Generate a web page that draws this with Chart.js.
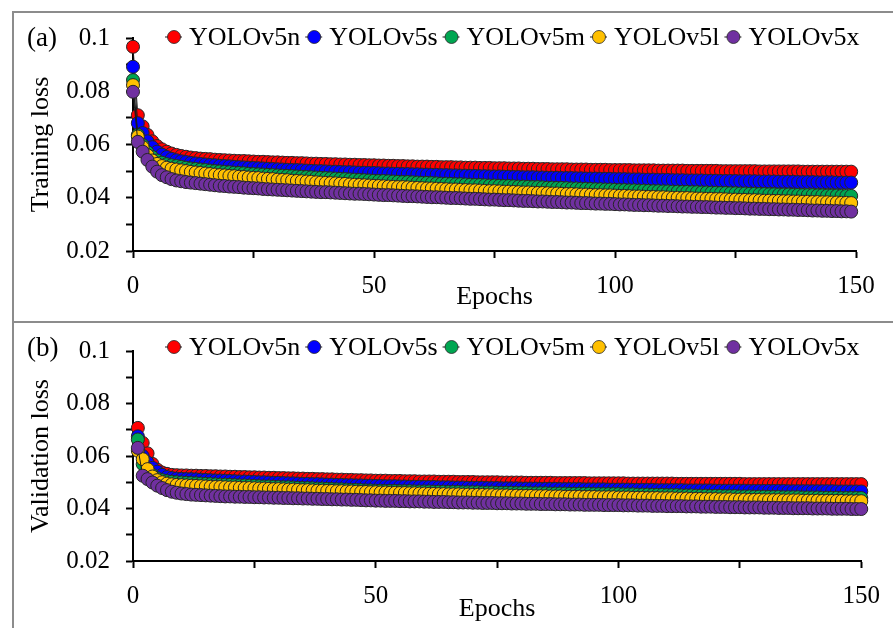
<!DOCTYPE html>
<html>
<head>
<meta charset="utf-8">
<script src="https://cdn.jsdelivr.net/npm/chart.js@4.4.1/dist/chart.umd.min.js"></script>
<style>
  body { margin: 0; background: #fff; width: 893px; height: 628px; overflow: hidden; position: relative; }
  .frame { position: absolute; left: 12px; border-left: 2px solid #8c8c8c; border-top: 2px solid #8c8c8c; right: 0; }
  canvas { position: absolute; left: 0; }
</style>
</head>
<body>
<div class="frame" style="top:11px;height:309px"></div>
<div class="frame" style="top:321px;height:320px"></div>
<canvas id="train-chart" width="893" height="320" style="top:0"></canvas>
<canvas id="val-chart" width="893" height="308" style="top:320px"></canvas>
<script>
const SERIES_NAMES = ["YOLOv5n", "YOLOv5s", "YOLOv5m", "YOLOv5l", "YOLOv5x"];
const SERIES_COLORS = ["#ff0000", "#0000ff", "#00a651", "#ffc000", "#7030a0"];

const trainEpochs = Array.from({ length: 150 }, (_, i) => i);
const valEpochs = Array.from({ length: 150 }, (_, i) => i + 1);

const trainN = [
  0.0967, 0.0710, 0.0668, 0.0636, 0.0612, 0.0594, 0.0582, 0.0573, 0.0566, 0.0561,
  0.0557, 0.0554, 0.0551, 0.0549, 0.0547, 0.0546, 0.0545, 0.0543, 0.0542, 0.0541,
  0.0540, 0.0539, 0.0538, 0.0538, 0.0537, 0.0536, 0.0535, 0.0535, 0.0534, 0.0533,
  0.0533, 0.0532, 0.0531, 0.0531, 0.0530, 0.0530, 0.0529, 0.0528, 0.0528, 0.0527,
  0.0527, 0.0526, 0.0526, 0.0525, 0.0525, 0.0524, 0.0524, 0.0523, 0.0523, 0.0522,
  0.0522, 0.0521, 0.0521, 0.0520, 0.0520, 0.0519, 0.0519, 0.0518, 0.0518, 0.0517,
  0.0517, 0.0517, 0.0516, 0.0516, 0.0515, 0.0515, 0.0515, 0.0514, 0.0514, 0.0513,
  0.0513, 0.0513, 0.0512, 0.0512, 0.0512, 0.0511, 0.0511, 0.0511, 0.0510, 0.0510,
  0.0510, 0.0509, 0.0509, 0.0509, 0.0508, 0.0508, 0.0508, 0.0507, 0.0507, 0.0507,
  0.0507, 0.0506, 0.0506, 0.0506, 0.0506, 0.0505, 0.0505, 0.0505, 0.0505, 0.0504,
  0.0504, 0.0504, 0.0504, 0.0504, 0.0503, 0.0503, 0.0503, 0.0503, 0.0503, 0.0502,
  0.0502, 0.0502, 0.0502, 0.0502, 0.0502, 0.0501, 0.0501, 0.0501, 0.0501, 0.0501,
  0.0501, 0.0501, 0.0500, 0.0500, 0.0500, 0.0500, 0.0500, 0.0500, 0.0500, 0.0500,
  0.0499, 0.0499, 0.0499, 0.0499, 0.0499, 0.0499, 0.0499, 0.0499, 0.0499, 0.0498,
  0.0498, 0.0498, 0.0498, 0.0498, 0.0498, 0.0498, 0.0498, 0.0498, 0.0498, 0.0498
];
const trainS = [
  0.0892, 0.0680, 0.0643, 0.0612, 0.0590, 0.0573, 0.0562, 0.0553, 0.0546, 0.0541,
  0.0537, 0.0534, 0.0531, 0.0529, 0.0527, 0.0525, 0.0523, 0.0522, 0.0520, 0.0519,
  0.0518, 0.0516, 0.0515, 0.0514, 0.0513, 0.0512, 0.0511, 0.0510, 0.0509, 0.0508,
  0.0507, 0.0506, 0.0505, 0.0504, 0.0504, 0.0503, 0.0502, 0.0501, 0.0500, 0.0500,
  0.0499, 0.0498, 0.0498, 0.0497, 0.0496, 0.0496, 0.0495, 0.0494, 0.0494, 0.0493,
  0.0493, 0.0492, 0.0491, 0.0491, 0.0490, 0.0490, 0.0489, 0.0489, 0.0488, 0.0488,
  0.0487, 0.0487, 0.0486, 0.0486, 0.0485, 0.0485, 0.0484, 0.0484, 0.0483, 0.0483,
  0.0482, 0.0482, 0.0481, 0.0481, 0.0480, 0.0480, 0.0480, 0.0479, 0.0479, 0.0478,
  0.0478, 0.0477, 0.0477, 0.0477, 0.0476, 0.0476, 0.0475, 0.0475, 0.0475, 0.0474,
  0.0474, 0.0474, 0.0473, 0.0473, 0.0472, 0.0472, 0.0472, 0.0471, 0.0471, 0.0471,
  0.0470, 0.0470, 0.0470, 0.0469, 0.0469, 0.0469, 0.0468, 0.0468, 0.0468, 0.0467,
  0.0467, 0.0467, 0.0466, 0.0466, 0.0466, 0.0465, 0.0465, 0.0465, 0.0465, 0.0464,
  0.0464, 0.0464, 0.0463, 0.0463, 0.0463, 0.0463, 0.0462, 0.0462, 0.0462, 0.0462,
  0.0461, 0.0461, 0.0461, 0.0461, 0.0460, 0.0460, 0.0460, 0.0460, 0.0459, 0.0459,
  0.0459, 0.0459, 0.0458, 0.0458, 0.0458, 0.0458, 0.0457, 0.0457, 0.0457, 0.0457
];
const trainM = [
  0.0842, 0.0636, 0.0598, 0.0571, 0.0553, 0.0540, 0.0532, 0.0526, 0.0522, 0.0519,
  0.0516, 0.0513, 0.0510, 0.0508, 0.0506, 0.0504, 0.0502, 0.0500, 0.0499, 0.0497,
  0.0496, 0.0494, 0.0493, 0.0492, 0.0490, 0.0489, 0.0488, 0.0487, 0.0486, 0.0485,
  0.0484, 0.0483, 0.0482, 0.0481, 0.0480, 0.0479, 0.0478, 0.0477, 0.0476, 0.0475,
  0.0474, 0.0473, 0.0472, 0.0471, 0.0470, 0.0469, 0.0468, 0.0467, 0.0466, 0.0465,
  0.0464, 0.0463, 0.0463, 0.0462, 0.0461, 0.0460, 0.0459, 0.0459, 0.0458, 0.0457,
  0.0456, 0.0456, 0.0455, 0.0454, 0.0453, 0.0453, 0.0452, 0.0451, 0.0451, 0.0450,
  0.0449, 0.0448, 0.0448, 0.0447, 0.0446, 0.0446, 0.0445, 0.0444, 0.0444, 0.0443,
  0.0442, 0.0442, 0.0441, 0.0440, 0.0440, 0.0439, 0.0438, 0.0438, 0.0437, 0.0437,
  0.0436, 0.0435, 0.0435, 0.0434, 0.0434, 0.0433, 0.0432, 0.0432, 0.0431, 0.0431,
  0.0430, 0.0429, 0.0429, 0.0428, 0.0428, 0.0427, 0.0427, 0.0426, 0.0425, 0.0425,
  0.0424, 0.0424, 0.0423, 0.0423, 0.0422, 0.0422, 0.0421, 0.0421, 0.0420, 0.0420,
  0.0419, 0.0419, 0.0418, 0.0418, 0.0417, 0.0417, 0.0416, 0.0416, 0.0415, 0.0415,
  0.0414, 0.0414, 0.0413, 0.0413, 0.0412, 0.0412, 0.0412, 0.0411, 0.0411, 0.0410,
  0.0410, 0.0410, 0.0409, 0.0409, 0.0408, 0.0408, 0.0408, 0.0407, 0.0407, 0.0407
];
const trainL = [
  0.0823, 0.0630, 0.0590, 0.0560, 0.0540, 0.0527, 0.0519, 0.0513, 0.0509, 0.0506,
  0.0503, 0.0500, 0.0497, 0.0495, 0.0493, 0.0491, 0.0489, 0.0487, 0.0485, 0.0484,
  0.0482, 0.0481, 0.0479, 0.0478, 0.0476, 0.0475, 0.0474, 0.0472, 0.0471, 0.0470,
  0.0468, 0.0467, 0.0466, 0.0464, 0.0463, 0.0462, 0.0461, 0.0460, 0.0458, 0.0457,
  0.0456, 0.0455, 0.0454, 0.0453, 0.0452, 0.0450, 0.0449, 0.0448, 0.0447, 0.0446,
  0.0445, 0.0444, 0.0443, 0.0442, 0.0441, 0.0440, 0.0440, 0.0439, 0.0438, 0.0437,
  0.0436, 0.0435, 0.0435, 0.0434, 0.0433, 0.0432, 0.0431, 0.0431, 0.0430, 0.0429,
  0.0428, 0.0428, 0.0427, 0.0426, 0.0425, 0.0425, 0.0424, 0.0423, 0.0423, 0.0422,
  0.0421, 0.0420, 0.0420, 0.0419, 0.0418, 0.0418, 0.0417, 0.0416, 0.0416, 0.0415,
  0.0414, 0.0414, 0.0413, 0.0412, 0.0412, 0.0411, 0.0410, 0.0410, 0.0409, 0.0409,
  0.0408, 0.0407, 0.0407, 0.0406, 0.0405, 0.0405, 0.0404, 0.0403, 0.0403, 0.0402,
  0.0402, 0.0401, 0.0400, 0.0400, 0.0399, 0.0399, 0.0398, 0.0397, 0.0397, 0.0396,
  0.0396, 0.0395, 0.0395, 0.0394, 0.0393, 0.0393, 0.0392, 0.0392, 0.0391, 0.0391,
  0.0390, 0.0389, 0.0389, 0.0388, 0.0388, 0.0387, 0.0387, 0.0386, 0.0386, 0.0385,
  0.0385, 0.0384, 0.0384, 0.0383, 0.0383, 0.0382, 0.0382, 0.0381, 0.0381, 0.0380
];
const trainX = [
  0.0798, 0.0610, 0.0573, 0.0542, 0.0517, 0.0498, 0.0485, 0.0477, 0.0470, 0.0465,
  0.0462, 0.0459, 0.0457, 0.0455, 0.0453, 0.0451, 0.0449, 0.0447, 0.0445, 0.0444,
  0.0442, 0.0441, 0.0440, 0.0438, 0.0437, 0.0436, 0.0435, 0.0433, 0.0432, 0.0431,
  0.0430, 0.0429, 0.0428, 0.0427, 0.0426, 0.0425, 0.0424, 0.0423, 0.0422, 0.0421,
  0.0421, 0.0420, 0.0419, 0.0418, 0.0417, 0.0416, 0.0415, 0.0415, 0.0414, 0.0413,
  0.0412, 0.0411, 0.0410, 0.0410, 0.0409, 0.0408, 0.0407, 0.0406, 0.0406, 0.0405,
  0.0404, 0.0403, 0.0402, 0.0402, 0.0401, 0.0400, 0.0399, 0.0399, 0.0398, 0.0397,
  0.0396, 0.0396, 0.0395, 0.0394, 0.0393, 0.0393, 0.0392, 0.0391, 0.0391, 0.0390,
  0.0389, 0.0388, 0.0388, 0.0387, 0.0386, 0.0386, 0.0385, 0.0384, 0.0384, 0.0383,
  0.0382, 0.0382, 0.0381, 0.0380, 0.0380, 0.0379, 0.0378, 0.0378, 0.0377, 0.0377,
  0.0376, 0.0375, 0.0375, 0.0374, 0.0373, 0.0373, 0.0372, 0.0372, 0.0371, 0.0370,
  0.0370, 0.0369, 0.0369, 0.0368, 0.0367, 0.0367, 0.0366, 0.0366, 0.0365, 0.0365,
  0.0364, 0.0363, 0.0363, 0.0362, 0.0362, 0.0361, 0.0361, 0.0360, 0.0359, 0.0359,
  0.0358, 0.0358, 0.0357, 0.0357, 0.0356, 0.0356, 0.0355, 0.0355, 0.0354, 0.0354,
  0.0353, 0.0352, 0.0352, 0.0351, 0.0351, 0.0350, 0.0350, 0.0349, 0.0349, 0.0348
];

const valN = [
  0.0707, 0.0650, 0.0610, 0.0570, 0.0548, 0.0537, 0.0532, 0.0528, 0.0527, 0.0526,
  0.0526, 0.0525, 0.0525, 0.0524, 0.0524, 0.0523, 0.0523, 0.0522, 0.0522, 0.0521,
  0.0521, 0.0520, 0.0520, 0.0519, 0.0519, 0.0518, 0.0518, 0.0517, 0.0517, 0.0516,
  0.0516, 0.0515, 0.0515, 0.0514, 0.0514, 0.0513, 0.0513, 0.0512, 0.0512, 0.0511,
  0.0511, 0.0510, 0.0510, 0.0509, 0.0509, 0.0508, 0.0508, 0.0507, 0.0507, 0.0506,
  0.0506, 0.0506, 0.0505, 0.0505, 0.0505, 0.0504, 0.0504, 0.0504, 0.0503, 0.0503,
  0.0503, 0.0503, 0.0502, 0.0502, 0.0502, 0.0502, 0.0501, 0.0501, 0.0501, 0.0501,
  0.0500, 0.0500, 0.0500, 0.0500, 0.0500, 0.0499, 0.0499, 0.0499, 0.0499, 0.0499,
  0.0498, 0.0498, 0.0498, 0.0498, 0.0498, 0.0498, 0.0497, 0.0497, 0.0497, 0.0497,
  0.0497, 0.0497, 0.0497, 0.0496, 0.0496, 0.0496, 0.0496, 0.0496, 0.0496, 0.0496,
  0.0496, 0.0495, 0.0495, 0.0495, 0.0495, 0.0495, 0.0495, 0.0495, 0.0495, 0.0495,
  0.0495, 0.0494, 0.0494, 0.0494, 0.0494, 0.0494, 0.0494, 0.0494, 0.0494, 0.0494,
  0.0494, 0.0494, 0.0494, 0.0494, 0.0494, 0.0493, 0.0493, 0.0493, 0.0493, 0.0493,
  0.0493, 0.0493, 0.0493, 0.0493, 0.0493, 0.0493, 0.0493, 0.0493, 0.0493, 0.0493,
  0.0493, 0.0493, 0.0493, 0.0493, 0.0493, 0.0493, 0.0493, 0.0493, 0.0493, 0.0493
];
const valS = [
  0.0675, 0.0600, 0.0575, 0.0555, 0.0540, 0.0528, 0.0520, 0.0516, 0.0514, 0.0513,
  0.0512, 0.0512, 0.0511, 0.0510, 0.0509, 0.0508, 0.0507, 0.0507, 0.0506, 0.0505,
  0.0504, 0.0503, 0.0503, 0.0502, 0.0501, 0.0500, 0.0500, 0.0499, 0.0498, 0.0498,
  0.0497, 0.0496, 0.0496, 0.0495, 0.0494, 0.0494, 0.0493, 0.0493, 0.0492, 0.0491,
  0.0491, 0.0490, 0.0490, 0.0489, 0.0489, 0.0488, 0.0488, 0.0487, 0.0487, 0.0486,
  0.0486, 0.0485, 0.0485, 0.0485, 0.0484, 0.0484, 0.0483, 0.0483, 0.0483, 0.0482,
  0.0482, 0.0482, 0.0481, 0.0481, 0.0481, 0.0480, 0.0480, 0.0480, 0.0479, 0.0479,
  0.0479, 0.0479, 0.0478, 0.0478, 0.0478, 0.0477, 0.0477, 0.0477, 0.0477, 0.0476,
  0.0476, 0.0476, 0.0476, 0.0475, 0.0475, 0.0475, 0.0475, 0.0474, 0.0474, 0.0474,
  0.0474, 0.0474, 0.0473, 0.0473, 0.0473, 0.0473, 0.0473, 0.0472, 0.0472, 0.0472,
  0.0472, 0.0472, 0.0471, 0.0471, 0.0471, 0.0471, 0.0471, 0.0470, 0.0470, 0.0470,
  0.0470, 0.0470, 0.0470, 0.0469, 0.0469, 0.0469, 0.0469, 0.0469, 0.0469, 0.0468,
  0.0468, 0.0468, 0.0468, 0.0468, 0.0468, 0.0468, 0.0467, 0.0467, 0.0467, 0.0467,
  0.0467, 0.0467, 0.0467, 0.0467, 0.0466, 0.0466, 0.0466, 0.0466, 0.0466, 0.0466,
  0.0466, 0.0466, 0.0466, 0.0466, 0.0465, 0.0465, 0.0465, 0.0465, 0.0465, 0.0465
];
const valM = [
  0.0663, 0.0569, 0.0545, 0.0528, 0.0515, 0.0508, 0.0504, 0.0502, 0.0500, 0.0499,
  0.0498, 0.0497, 0.0496, 0.0495, 0.0494, 0.0493, 0.0492, 0.0491, 0.0491, 0.0490,
  0.0489, 0.0488, 0.0488, 0.0487, 0.0486, 0.0485, 0.0484, 0.0484, 0.0483, 0.0482,
  0.0481, 0.0481, 0.0480, 0.0479, 0.0478, 0.0478, 0.0477, 0.0476, 0.0476, 0.0475,
  0.0474, 0.0473, 0.0473, 0.0472, 0.0471, 0.0471, 0.0470, 0.0469, 0.0469, 0.0468,
  0.0468, 0.0467, 0.0467, 0.0467, 0.0466, 0.0466, 0.0466, 0.0465, 0.0465, 0.0465,
  0.0465, 0.0464, 0.0464, 0.0464, 0.0463, 0.0463, 0.0463, 0.0462, 0.0462, 0.0462,
  0.0462, 0.0461, 0.0461, 0.0461, 0.0460, 0.0460, 0.0460, 0.0460, 0.0459, 0.0459,
  0.0459, 0.0458, 0.0458, 0.0458, 0.0458, 0.0457, 0.0457, 0.0457, 0.0457, 0.0456,
  0.0456, 0.0456, 0.0456, 0.0456, 0.0455, 0.0455, 0.0455, 0.0455, 0.0455, 0.0455,
  0.0454, 0.0454, 0.0454, 0.0453, 0.0453, 0.0453, 0.0452, 0.0452, 0.0452, 0.0451,
  0.0451, 0.0451, 0.0450, 0.0450, 0.0450, 0.0449, 0.0449, 0.0449, 0.0448, 0.0448,
  0.0448, 0.0447, 0.0447, 0.0447, 0.0446, 0.0446, 0.0446, 0.0445, 0.0445, 0.0445,
  0.0444, 0.0444, 0.0444, 0.0443, 0.0443, 0.0443, 0.0443, 0.0442, 0.0442, 0.0442,
  0.0442, 0.0441, 0.0441, 0.0441, 0.0441, 0.0440, 0.0440, 0.0440, 0.0440, 0.0440
];
const valL = [
  0.0620, 0.0588, 0.0550, 0.0522, 0.0508, 0.0500, 0.0495, 0.0492, 0.0490, 0.0489,
  0.0488, 0.0487, 0.0486, 0.0485, 0.0484, 0.0483, 0.0482, 0.0482, 0.0481, 0.0480,
  0.0480, 0.0479, 0.0478, 0.0478, 0.0477, 0.0476, 0.0476, 0.0475, 0.0474, 0.0474,
  0.0473, 0.0472, 0.0472, 0.0471, 0.0470, 0.0470, 0.0469, 0.0468, 0.0468, 0.0467,
  0.0467, 0.0466, 0.0466, 0.0465, 0.0465, 0.0464, 0.0463, 0.0463, 0.0462, 0.0462,
  0.0461, 0.0461, 0.0460, 0.0460, 0.0459, 0.0459, 0.0458, 0.0458, 0.0457, 0.0457,
  0.0456, 0.0456, 0.0455, 0.0455, 0.0454, 0.0454, 0.0454, 0.0453, 0.0453, 0.0452,
  0.0452, 0.0452, 0.0451, 0.0451, 0.0450, 0.0450, 0.0450, 0.0449, 0.0449, 0.0448,
  0.0448, 0.0448, 0.0447, 0.0447, 0.0447, 0.0446, 0.0446, 0.0446, 0.0445, 0.0445,
  0.0445, 0.0445, 0.0444, 0.0444, 0.0444, 0.0443, 0.0443, 0.0443, 0.0443, 0.0442,
  0.0442, 0.0442, 0.0441, 0.0441, 0.0441, 0.0440, 0.0440, 0.0440, 0.0439, 0.0439,
  0.0439, 0.0438, 0.0438, 0.0438, 0.0437, 0.0437, 0.0437, 0.0436, 0.0436, 0.0436,
  0.0435, 0.0435, 0.0435, 0.0434, 0.0434, 0.0434, 0.0433, 0.0433, 0.0433, 0.0432,
  0.0432, 0.0432, 0.0432, 0.0431, 0.0431, 0.0431, 0.0431, 0.0430, 0.0430, 0.0430,
  0.0430, 0.0429, 0.0429, 0.0429, 0.0429, 0.0429, 0.0428, 0.0428, 0.0428, 0.0428
];
const valX = [
  0.0631, 0.0525, 0.0512, 0.0499, 0.0487, 0.0478, 0.0470, 0.0464, 0.0460, 0.0457,
  0.0455, 0.0453, 0.0452, 0.0451, 0.0450, 0.0449, 0.0448, 0.0447, 0.0446, 0.0446,
  0.0445, 0.0445, 0.0444, 0.0444, 0.0443, 0.0443, 0.0442, 0.0442, 0.0441, 0.0441,
  0.0440, 0.0440, 0.0439, 0.0439, 0.0438, 0.0438, 0.0437, 0.0437, 0.0436, 0.0436,
  0.0435, 0.0435, 0.0434, 0.0434, 0.0433, 0.0433, 0.0432, 0.0431, 0.0431, 0.0430,
  0.0430, 0.0429, 0.0429, 0.0429, 0.0428, 0.0428, 0.0427, 0.0427, 0.0427, 0.0426,
  0.0426, 0.0425, 0.0425, 0.0425, 0.0424, 0.0424, 0.0423, 0.0423, 0.0423, 0.0422,
  0.0422, 0.0421, 0.0421, 0.0421, 0.0420, 0.0420, 0.0420, 0.0419, 0.0419, 0.0419,
  0.0418, 0.0418, 0.0418, 0.0417, 0.0417, 0.0417, 0.0416, 0.0416, 0.0416, 0.0415,
  0.0415, 0.0415, 0.0414, 0.0414, 0.0414, 0.0414, 0.0413, 0.0413, 0.0413, 0.0413,
  0.0412, 0.0412, 0.0412, 0.0411, 0.0411, 0.0411, 0.0410, 0.0410, 0.0410, 0.0409,
  0.0409, 0.0409, 0.0409, 0.0408, 0.0408, 0.0408, 0.0407, 0.0407, 0.0407, 0.0406,
  0.0406, 0.0406, 0.0405, 0.0405, 0.0405, 0.0404, 0.0404, 0.0404, 0.0404, 0.0403,
  0.0403, 0.0403, 0.0402, 0.0402, 0.0402, 0.0401, 0.0401, 0.0401, 0.0401, 0.0400,
  0.0400, 0.0400, 0.0400, 0.0399, 0.0399, 0.0399, 0.0399, 0.0398, 0.0398, 0.0398
];

const yTicks = { min: 0.02, max: 0.1, step: 0.01 };
const xTicks = { min: 0, max: 150, step: 25, labelEvery: 50 };

const FONT = "'Liberation Serif', 'Times New Roman', serif";

function makeDatasets(epochs, seriesList) {
  return seriesList.map((values, i) => ({
    label: SERIES_NAMES[i],
    data: epochs.map((e, j) => ({ x: e, y: values[j] })),
    borderColor: "#1a1a1a",
    borderWidth: 1,
    backgroundColor: SERIES_COLORS[i],
    pointBackgroundColor: SERIES_COLORS[i],
    pointBorderColor: "#262626",
    pointBorderWidth: 1,
    pointRadius: 6.5,
    order: seriesList.length - i,
    clip: false,
  }));
}

// draws the line+marker legend and the panel tag "(a)" / "(b)"
const legendPlugin = {
  id: "lineLegend",
  afterDraw(chart, args, opts) {
    const ctx = chart.ctx;
    ctx.save();
    ctx.textBaseline = "middle";
    ctx.fillStyle = "#000";
    ctx.font = `27px ${FONT}`;
    ctx.fillText(opts.tag, 27, opts.y + 2);
    ctx.font = `26px ${FONT}`;
    let x = opts.x;
    chart.data.datasets.forEach((ds) => {
      ctx.strokeStyle = "#1a1a1a";
      ctx.lineWidth = 1;
      ctx.beginPath();
      ctx.moveTo(x, opts.y);
      ctx.lineTo(x + 17, opts.y);
      ctx.stroke();
      ctx.beginPath();
      ctx.arc(x + 9, opts.y, 6.5, 0, Math.PI * 2);
      ctx.fillStyle = ds.pointBackgroundColor;
      ctx.fill();
      ctx.strokeStyle = "#262626";
      ctx.lineWidth = 0.8;
      ctx.stroke();
      ctx.fillStyle = "#000";
      ctx.fillText(ds.label, x + 24, opts.y + 1);
      x += 24 + ctx.measureText(ds.label).width + 5;
    });
    ctx.restore();
  },
};

function makeChart(canvasId, epochs, seriesList, cfg) {
  const tickFont = { family: FONT, size: 25 };
  return new Chart(document.getElementById(canvasId), {
    type: "line",
    data: { datasets: makeDatasets(epochs, seriesList) },
    options: {
      responsive: false,
      animation: false,
      devicePixelRatio: 1,
      layout: { padding: { left: 0, right: cfg.padRight, top: cfg.padTop, bottom: 0 } },
      plugins: {
        legend: { display: false },
        tooltip: { enabled: false },
        lineLegend: { x: 165, y: cfg.legendY, tag: cfg.tag },
      },
      scales: {
        x: {
          type: "linear",
          min: xTicks.min,
          max: xTicks.max,
          afterFit: (s) => { s.height = cfg.xHeight; },
          border: { display: true, color: "#000", width: 2 },
          grid: { drawOnChartArea: false, drawTicks: true, tickLength: 7, tickColor: "#000", tickWidth: 2 },
          ticks: {
            stepSize: xTicks.step,
            color: "#000",
            font: tickFont,
            padding: 13,
            maxRotation: 0,
            autoSkip: false,
            callback: (v) => (v % xTicks.labelEvery === 0 ? String(v) : ""),
          },
          title: {
            display: true,
            text: "Epochs",
            color: "#000",
            font: { family: FONT, size: 26 },
            padding: { top: 0, bottom: cfg.titlePad },
          },
        },
        y: {
          min: yTicks.min,
          max: yTicks.max,
          afterFit: (s) => { s.width = 133; },
          border: { display: true, color: "#000", width: 2 },
          grid: { drawOnChartArea: false, drawTicks: true, tickLength: 7, tickColor: "#000", tickWidth: 2 },
          ticks: {
            stepSize: yTicks.step,
            color: "#000",
            font: tickFont,
            padding: 16,
            autoSkip: false,
            callback: (v) => (Math.round(v * 100) % 2 === 0 ? String(Number(v.toFixed(2))) : ""),
          },
          title: {
            display: true,
            text: cfg.yTitle,
            color: "#000",
            font: { family: FONT, size: 26 },
            padding: { top: 26, bottom: 0 },
          },
        },
      },
    },
    plugins: [legendPlugin],
  });
}

makeChart("train-chart", trainEpochs, [trainN, trainS, trainM, trainL, trainX], {
  tag: "(a)",
  yTitle: "Training loss",
  padTop: 38,
  padRight: 37,
  xHeight: 69,
  titlePad: 7,
  legendY: 37,
});

makeChart("val-chart", valEpochs, [valN, valS, valM, valL, valX], {
  tag: "(b)",
  yTitle: "Validation loss",
  padTop: 29,
  padRight: 23,
  xHeight: 67,
  titlePad: 3,
  legendY: 27,
});
</script>
</body>
</html>
